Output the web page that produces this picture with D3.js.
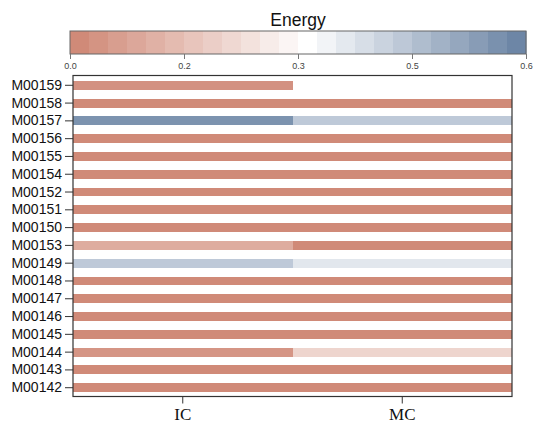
<!DOCTYPE html>
<html>
<head>
<meta charset="utf-8">
<script src="https://cdn.jsdelivr.net/npm/d3@7"></script>
<style>
  body { margin: 0; background: #fff; }
  svg { display: block; }
</style>
</head>
<body>
<svg id="chart" width="533" height="429"></svg>
<script>
// rows top to bottom, as shown
const motifs = ['M00159', 'M00158', 'M00157', 'M00156', 'M00155', 'M00154', 'M00152',
  'M00151', 'M00150', 'M00153', 'M00149', 'M00148', 'M00147', 'M00146', 'M00145',
  'M00144', 'M00143', 'M00142'];
const groups = ['IC', 'MC'];
const icValues = [0.02, 0, 0.57, 0, 0, 0, 0, 0, 0, 0.09, 0.44, 0, 0, 0, 0, 0.03, 0, 0];
const mcValues = [0.313, 0, 0.44, 0, 0, 0, 0, 0, 0, 0, 0.37, 0, 0, 0, 0, 0.2, 0, 0];
const legendTicks = [0, 0.15, 0.3, 0.45, 0.6];
const legendTickLabels = ['0.0', '0.2', '0.3', '0.5', '0.6'];
const legendSteps = 24;

const svg = d3.select('#chart');

// long format for the cells
const cells = [];
motifs.forEach((m, i) => {
  cells.push({ motif: m, group: 'IC', value: icValues[i] });
  cells.push({ motif: m, group: 'MC', value: mcValues[i] });
});

const color = d3.scaleLinear()
  .domain([0, 0.313, 0.6])
  .range(['#d08a78', '#ffffff', '#6d86a6'])
  .interpolate(d3.interpolateRgb);

// heatmap area
const plotL = 73, plotR = 512, plotT = 75.5, plotB = 396.5;

const x = d3.scaleBand().domain(groups).range([plotL, plotR]).padding(0);
const y = d3.scaleBand().domain(motifs).range([76.4, 396.6])
  .paddingInner(0.5).paddingOuter(0.25);

// snap column edges to whole pixels so IC / MC meet without a seam
const x0 = d => Math.round(x(d.group));
const x1 = d => Math.round(x(d.group) + x.bandwidth());

svg.append('g')
  .attr('shape-rendering', 'crispEdges')
  .selectAll('rect')
  .data(cells)
  .join('rect')
  .attr('x', x0)
  .attr('y', d => y(d.motif))
  .attr('width', d => x1(d) - x0(d))
  .attr('height', y.bandwidth())
  .attr('fill', d => color(d.value));

// frame
svg.append('rect')
  .attr('x', plotL)
  .attr('y', plotT)
  .attr('width', plotR - plotL)
  .attr('height', plotB - plotT)
  .attr('fill', 'none')
  .attr('stroke', '#333')
  .attr('stroke-width', 1.2);

// y axis
const yAxis = svg.append('g')
  .attr('transform', `translate(${plotL},0)`)
  .call(d3.axisLeft(y).tickSize(8).tickPadding(3));
yAxis.select('.domain').remove();
yAxis.selectAll('line').attr('stroke', '#333');
yAxis.selectAll('text')
  .attr('font-family', 'Liberation Sans, Arial, sans-serif')
  .attr('font-size', 14)
  .attr('fill', '#111');

// x axis
const xAxis = svg.append('g')
  .attr('transform', `translate(0,${plotB})`)
  .call(d3.axisBottom(x).tickSize(7).tickPadding(4));
xAxis.select('.domain').remove();
xAxis.selectAll('line').attr('stroke', '#333');
xAxis.selectAll('text')
  .attr('font-family', 'Liberation Serif, Times New Roman, serif')
  .attr('font-size', 17)
  .attr('fill', '#111');

// colour legend
const lgLeft = 70, lgRight = 526, lgTop = 31, lgBottom = 54;
const lx = d3.scaleLinear().domain([0, 0.6]).range([lgLeft, lgRight]);
const stepW = (lgRight - lgLeft) / legendSteps;

svg.append('g')
  .selectAll('rect')
  .data(d3.range(legendSteps))
  .join('rect')
  .attr('x', i => lgLeft + i * stepW)
  .attr('y', lgTop)
  .attr('width', stepW + 0.5)
  .attr('height', lgBottom - lgTop)
  .attr('fill', i => color(i / (legendSteps - 1) * 0.6));

svg.append('rect')
  .attr('x', lgLeft)
  .attr('y', lgTop)
  .attr('width', lgRight - lgLeft)
  .attr('height', lgBottom - lgTop)
  .attr('fill', 'none')
  .attr('stroke', '#666')
  .attr('stroke-width', 1);

const lgAxis = svg.append('g')
  .attr('transform', `translate(0,${lgBottom})`)
  .call(d3.axisBottom(lx)
    .tickValues(legendTicks)
    .tickFormat((d, i) => legendTickLabels[i])
    .tickSize(5)
    .tickPadding(4));
lgAxis.select('.domain').remove();
lgAxis.selectAll('line').attr('stroke', '#777');
lgAxis.selectAll('text')
  .attr('font-family', 'Liberation Sans, Arial, sans-serif')
  .attr('font-size', 9)
  .attr('fill', '#444');

svg.append('text')
  .attr('x', 298)
  .attr('y', 26)
  .attr('text-anchor', 'middle')
  .attr('font-family', 'Liberation Sans, Arial, sans-serif')
  .attr('font-size', 17.5)
  .attr('fill', '#111')
  .text('Energy');
</script>
</body>
</html>
